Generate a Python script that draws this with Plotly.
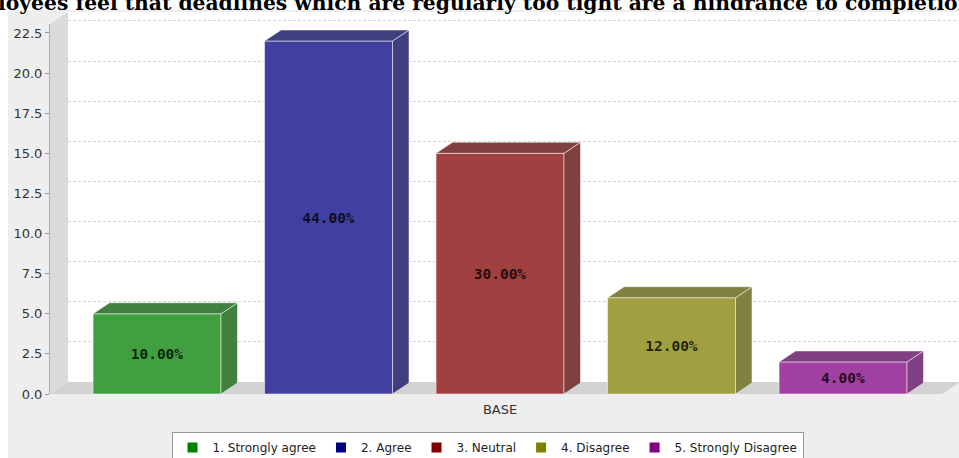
import plotly.graph_objects as go

# ---------------- data ----------------
series_names = ["1. Strongly agree", "2. Agree", "3. Neutral", "4. Disagree", "5. Strongly Disagree"]
series_values = [5, 22, 15, 6, 2]
category_label = "BASE"
y_tick_values = [0.0, 2.5, 5.0, 7.5, 10.0, 12.5, 15.0, 17.5, 20.0, 22.5]
title_text = "Employees feel that deadlines which are regularly too tight are a hindrance to completion"

# ---------------- style ----------------
base_colors = ["#008000", "#000080", "#800000", "#808000", "#800080"]
W, H = 959, 458


def px(x):
    return x / W


def py(y):
    return 1 - y / H


def hex_rgb(h):
    h = h.lstrip("#")
    return tuple(int(h[i:i + 2], 16) for i in (0, 2, 4))


def blend(h, alpha=0.75, factor=1.0):
    r, g, b = hex_rgb(h)
    c = [int(round(255 * (1 - alpha) + alpha * v * factor)) for v in (r, g, b)]
    return "rgb(%d,%d,%d)" % tuple(c)


# front plane pixel box
FX0, FX1, FY0, FY1 = 50, 942, 394, 24
WDX, WDY = 18, 12      # wall depth (px)
BDX, BDY = 16.5, 11    # bar depth (px)
XMIN, XMAX = -0.624, 4.577
BAR_W = 0.746
YMAX = 23.06

dx_data = BDX * (XMAX - XMIN) / (FX1 - FX0)
dy_data = BDY * YMAX / (FY0 - FY1)

fig = go.Figure()

# invisible trace for back plane subplot
fig.add_trace(go.Scatter(x=[None], y=[None], xaxis="x", yaxis="y", showlegend=False, hoverinfo="skip"))

total = sum(series_values)
line_col = "rgba(255,255,255,0.5)"
for i, (name, v, c) in enumerate(zip(series_names, series_values, base_colors)):
    pct = "%.2f%%" % (v / total * 100)
    fig.add_trace(go.Bar(
        x=[i], y=[v], width=[BAR_W], xaxis="x2", yaxis="y2",
        marker=dict(color=blend(c), line=dict(color=line_col, width=1)),
        text=[pct], textposition="inside", insidetextanchor="middle",
        textfont=dict(family="DejaVu Sans Mono", size=14.5, color="rgba(0,0,0,0.8)", weight="bold"),
        showlegend=False, hoverinfo="skip", cliponaxis=False,
    ))
    x0, x1 = i - BAR_W / 2, i + BAR_W / 2
    # side face
    fig.add_trace(go.Scatter(
        x=[x1, x1 + dx_data, x1 + dx_data, x1, x1],
        y=[0, dy_data, v + dy_data, v, 0],
        xaxis="x2", yaxis="y2", mode="lines", fill="toself",
        fillcolor=blend(c, 0.75, 0.68), line=dict(color=line_col, width=1),
        showlegend=False, hoverinfo="skip",
    ))
    # top face
    fig.add_trace(go.Scatter(
        x=[x0, x1, x1 + dx_data, x0 + dx_data, x0],
        y=[v, v, v + dy_data, v + dy_data, v],
        xaxis="x2", yaxis="y2", mode="lines", fill="toself",
        fillcolor=blend(c, 0.75, 0.68), line=dict(color=line_col, width=1),
        showlegend=False, hoverinfo="skip",
    ))

# legend entries
for name, c in zip(series_names, base_colors):
    fig.add_trace(go.Scatter(
        x=[None], y=[None], xaxis="x2", yaxis="y2", mode="markers", name=name,
        marker=dict(symbol="square", size=10, color=c),
    ))

shapes = [
    # white strips outside chart image
    dict(type="rect", xref="paper", yref="paper", x0=0, x1=px(8), y0=0, y1=1,
         fillcolor="white", line=dict(width=0), layer="below"),
    dict(type="rect", xref="paper", yref="paper", x0=0, x1=1, y0=py(10), y1=1,
         fillcolor="white", line=dict(width=0), layer="below"),
    # back wall
    dict(type="rect", xref="paper", yref="paper", x0=px(FX0 + WDX), x1=1,
         y0=py(FY0 - WDY), y1=py(FY1 - WDY),
         fillcolor="white", line=dict(width=0), layer="below"),
    # left wall
    dict(type="path", xref="paper", yref="paper",
         path="M %f %f L %f %f L %f %f L %f %f Z" % (
             px(FX0), py(FY1), px(FX0 + WDX), py(FY1 - WDY),
             px(FX0 + WDX), py(FY0 - WDY), px(FX0), py(FY0)),
         fillcolor="#dadada", line=dict(width=0), layer="below"),
    # floor
    dict(type="path", xref="paper", yref="paper",
         path="M %f %f L %f %f L %f %f L %f %f Z" % (
             px(FX0), py(FY0), px(FX0 + WDX), py(FY0 - WDY),
             px(FX1 + WDX), py(FY0 - WDY), px(FX1), py(FY0)),
         fillcolor="#d2d2d2", line=dict(width=0), layer="below"),
]

fig.update_layout(
    width=W, height=H,
    margin=dict(l=0, r=0, t=0, b=0, autoexpand=False),
    paper_bgcolor="#eeeeee",
    plot_bgcolor="rgba(0,0,0,0)",
    barmode="overlay",
    hovermode=False,
    shapes=shapes,
    font=dict(family="DejaVu Sans", size=12, color="#444444"),
    # back plane (gridlines)
    xaxis=dict(domain=[px(FX0 + WDX), 1.0], range=[0, 1], anchor="y",
               showgrid=False, zeroline=False, showticklabels=False, showline=False, ticks=""),
    yaxis=dict(domain=[py(FY0 - WDY), py(FY1 - WDY)], range=[0, YMAX], anchor="x",
               tickvals=y_tick_values, showgrid=True, gridcolor="#d4d4d4", gridwidth=1,
               griddash="3px,2px", zeroline=False, showticklabels=False, showline=False, ticks=""),
    # front plane (bars)
    xaxis2=dict(domain=[px(FX0), px(FX1)], range=[XMIN, XMAX], anchor="y2",
                tickvals=[(len(series_values) - 1) / 2], ticktext=[category_label],
                showgrid=False, zeroline=False, showline=False, ticks="",
                ticklabelstandoff=6, tickfont=dict(size=13, color="#333333")),
    yaxis2=dict(domain=[py(FY0), py(FY1)], range=[0, YMAX], anchor="x2",
                tickvals=y_tick_values, tickformat=".1f",
                showgrid=False, zeroline=False, showline=True, linecolor="#b0b0b0", linewidth=1,
                ticks="outside", ticklen=4, tickcolor="#999999",
                tickfont=dict(size=13, color="#333333")),
    legend=dict(orientation="h", x=px(487.5), xanchor="center", xref="paper",
                y=py(432), yanchor="top", yref="container",
                bgcolor="white", bordercolor="#999999", borderwidth=1,
                font=dict(family="DejaVu Sans", size=12, color="#222222"),
                itemwidth=30, tracegroupgap=0),
    annotations=[dict(
        text=title_text, xref="paper", yref="paper", x=px(975), xanchor="right",
        y=py(3), yanchor="middle", showarrow=False,
        font=dict(family="DejaVu Serif", size=20.3, color="black", weight="bold"),
    )],
)

fig.write_html("out.html")
